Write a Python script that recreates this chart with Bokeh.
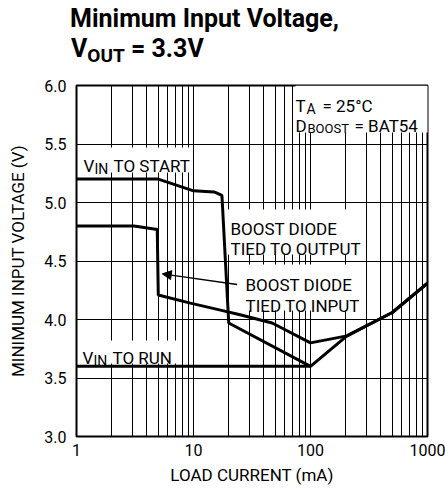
from bokeh.plotting import figure
from bokeh.layouts import column
from bokeh.models import Range1d, FixedTicker, Label, BoxAnnotation, Arrow, NormalHead, Div
from bokeh.embed import file_html
from bokeh.resources import INLINE

# ---- data ----
tied_output_x = [1, 5, 10, 15, 17.5, 20, 100, 205, 500, 1000]
tied_output_y = [5.2, 5.2, 5.1, 5.09, 5.06, 3.97, 3.6, 3.86, 4.06, 4.31]

tied_input_x = [1, 3.1, 4.9, 5.0, 9.4, 17, 25, 47, 100, 205, 500, 1000]
tied_input_y = [4.8, 4.8, 4.77, 4.21, 4.14, 4.08, 4.04, 3.97, 3.80, 3.86, 4.06, 4.31]

run_x = [1, 100]
run_y = [3.6, 3.6]

x_major = [1, 10, 100, 1000]
x_labels = ["1", "10", "100", "1000"]
x_minor = [m * d for d in (1, 10, 100) for m in range(2, 10)]
y_major = [3.0, 3.5, 4.0, 4.5, 5.0, 5.5, 6.0]
y_labels = ["3.0", "3.5", "4.0", "4.5", "5.0", "5.5", "6.0"]

FONT = "Roboto"

# frame in page pixels: left 76, right 427, top 85, bottom 436
FL, FB = 76, 436

title = Div(
    text=(
        '<div style="position:relative;width:445px;height:70px;font-family:Roboto;'
        'font-weight:bold;color:black;">'
        '<div style="position:absolute;left:70px;top:3.5px;font-size:25px;line-height:30px;'
        'white-space:nowrap;">Minimum Input Voltage,</div>'
        '<div style="position:absolute;left:71px;top:33.5px;font-size:25px;line-height:30px;'
        'white-space:nowrap;">V<span style="font-size:19px;position:relative;top:5px;">OUT</span>'
        ' = 3.3V</div>'
        '</div>'
    ),
    width=445, height=70, margin=(0, 0, 0, 0),
)

p = figure(width=445, height=419, x_axis_type="log",
           x_range=Range1d(1, 1000), y_range=Range1d(3, 6),
           output_backend="svg", toolbar_location=None, title=None,
           min_border_left=76, min_border_right=18,
           min_border_top=15, min_border_bottom=53)
p.background_fill_color = "white"
p.border_fill_color = "white"
p.outline_line_color = "black"
p.outline_line_width = 2

xt = FixedTicker(ticks=x_major, minor_ticks=x_minor)
yt = FixedTicker(ticks=y_major)
p.xaxis.ticker = xt
p.yaxis.ticker = yt
p.xgrid.ticker = xt
p.ygrid.ticker = yt
p.xaxis.major_label_overrides = dict(zip(x_major, x_labels))
p.yaxis.major_label_overrides = dict(zip(y_major, y_labels))

for ax in (p.xaxis, p.yaxis):
    ax.axis_line_color = None
    ax.major_tick_line_color = None
    ax.minor_tick_line_color = None
    ax.major_tick_out = 0
    ax.minor_tick_out = 0
    ax.major_tick_in = 0
    ax.minor_tick_in = 0
    ax.major_label_text_font = FONT
    ax.major_label_text_font_size = "16px"
    ax.major_label_text_color = "black"
    ax.axis_label_text_font = FONT
    ax.axis_label_text_font_size = "17px"
    ax.axis_label_text_font_style = "normal"
    ax.axis_label_text_color = "black"
p.xaxis.major_label_standoff = 7
p.yaxis.major_label_standoff = 10
p.xaxis.axis_label = "LOAD CURRENT (mA)"
p.yaxis.axis_label = "MINIMUM INPUT VOLTAGE (V)"
p.xaxis.axis_label_standoff = 6
p.yaxis.axis_label_standoff = 13

for g in (p.xgrid, p.ygrid):
    g.grid_line_color = "black"
    g.grid_line_width = 1
    g.grid_line_alpha = 1
p.xgrid.minor_grid_line_color = "black"
p.xgrid.minor_grid_line_width = 1


def box(x0, x1, y0, y1):
    p.add_layout(BoxAnnotation(left=x0 - FL, right=x1 - FL, top=FB - y0, bottom=FB - y1,
                               left_units="screen", right_units="screen",
                               top_units="screen", bottom_units="screen",
                               fill_color="white", fill_alpha=1, line_color=None,
                               level="underlay"))


def txt(s, px, py, size):
    p.add_layout(Label(x=px - FL, y=FB - py, x_units="screen", y_units="screen",
                       text=s, text_font=FONT, text_font_size=f"{size}px",
                       text_color="black", text_align="left", text_baseline="alphabetic"))


# white boxes behind in-plot notes
box(80, 192, 147, 172)
box(78, 176, 340, 363)
box(295, 428, 85, 132)
box(226, 360, 209, 254)
box(241, 359, 264, 310)

p.line(tied_output_x, tied_output_y, line_width=3, color="black")
p.line(tied_input_x, tied_input_y, line_width=3, color="black")
p.line(run_x, run_y, line_width=3, color="black")

p.add_layout(Arrow(end=NormalHead(size=9, fill_color="black", line_color="black"),
                   x_start=23.6, y_start=4.30, x_end=5.41, y_end=4.39,
                   line_width=1.5, line_color="black"))

# notes
txt("V", 83, 165, 17)
txt("IN", 94, 168, 14)
txt("TO START", 113, 165, 17)
txt("BOOST DIODE", 230, 228, 17)
txt("TIED TO OUTPUT", 230, 248, 17)
txt("BOOST DIODE", 245, 284, 17)
txt("TIED TO INPUT", 245, 305, 17)
txt("V", 82, 357, 17)
txt("IN", 93, 360, 14)
txt("TO RUN", 112, 357, 17)
txt("T", 295, 105, 17)
txt("A", 306, 108, 14)
txt("= 25\u00b0C", 322, 105, 17)
txt("D", 295, 125, 17)
txt("BOOST", 307, 128, 13)
txt("= BAT54", 354, 125, 17)

layout = column(title, p, spacing=0)
open("out.html", "w").write(file_html(layout, INLINE))
